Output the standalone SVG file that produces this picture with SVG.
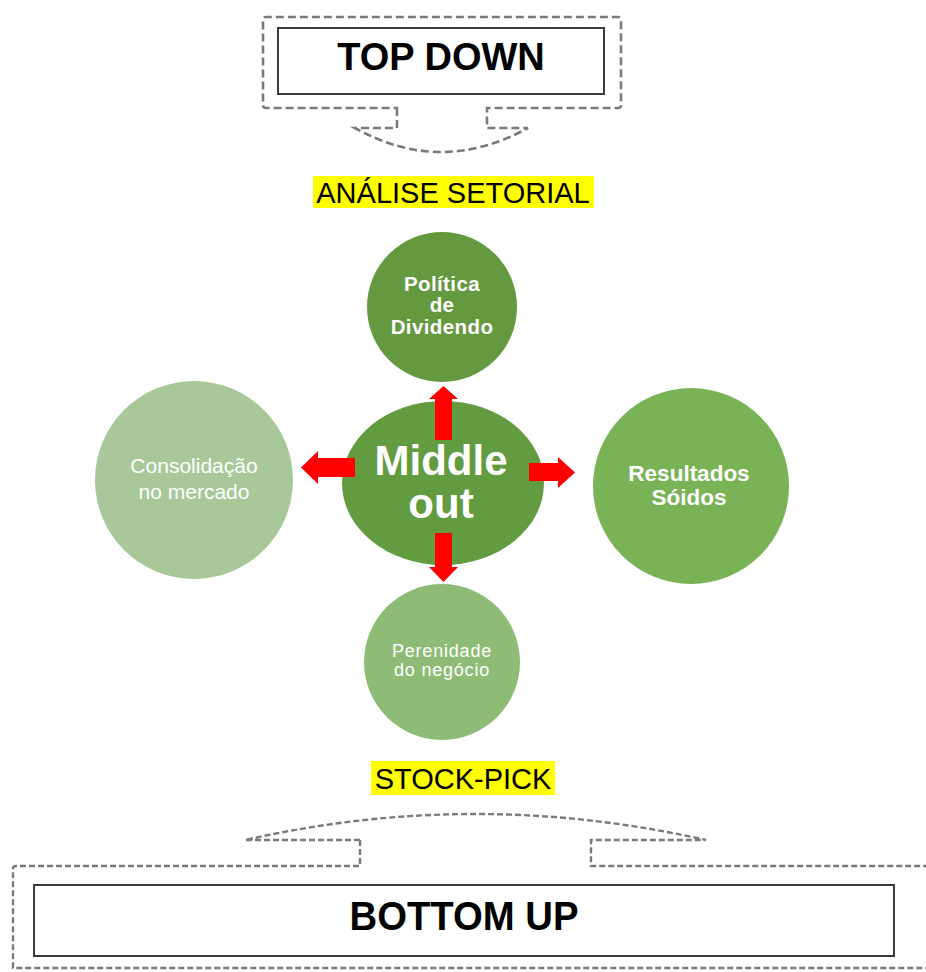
<svg xmlns="http://www.w3.org/2000/svg" width="926" height="972" viewBox="0 0 926 972">
<style>
.dash{fill:none;stroke:#7a7a7a;stroke-width:2.6;stroke-dasharray:8 4}
.dash2{fill:none;stroke:#7a7a7a;stroke-width:2.4;stroke-dasharray:6 3}
.box{fill:#fff;stroke:#3a3a3a;stroke-width:2}
.title{font-family:"Liberation Sans",Arial,sans-serif;font-weight:bold;fill:#000;text-anchor:middle}
.hl{fill:#ffff00}
.lbl{font-family:"Liberation Sans",Arial,sans-serif;font-size:29px;fill:#000;text-anchor:middle}
.ct{font-family:"Liberation Sans",Arial,sans-serif;fill:#fff;text-anchor:middle}
.arrow{fill:#ff0000}
</style>
<rect width="926" height="972" fill="#fff"/>
<g id="top-down">
  <path class="dash" d="M397,108 V128 H355 Q441,176 528,128 H487 V108 H618 Q621,108 621,105 V20 Q621,17 618,17 H266 Q263,17 263,20 V105 Q263,108 266,108 Z"/>
  <rect class="box" x="278" y="28" width="326" height="66"/>
  <text class="title" x="441" y="70" font-size="38">TOP DOWN</text>
</g>
<g id="analise-setorial">
  <rect class="hl" x="313" y="176" width="281" height="32"/>
  <text class="lbl" x="453" y="203">ANÁLISE SETORIAL</text>
</g>
<g id="politica">
  <circle cx="442" cy="307" r="75" fill="#64993f"/>
  <text class="ct" font-size="20.5" font-weight="bold" letter-spacing="0.4"><tspan x="442" y="291">Política</tspan><tspan x="442" y="312">de</tspan><tspan x="442" y="334">Dividendo</tspan></text>
</g>
<g id="consolidacao">
  <circle cx="194" cy="480" r="99" fill="#a9c89a"/>
  <text class="ct" font-size="21"><tspan x="194" y="473">Consolidação</tspan><tspan x="194" y="499">no mercado</tspan></text>
</g>
<g id="resultados">
  <circle cx="691" cy="486" r="98" fill="#7ab356"/>
  <text class="ct" font-size="22.5" font-weight="bold"><tspan x="689" y="481">Resultados</tspan><tspan x="689" y="505">Sóidos</tspan></text>
</g>
<g id="perenidade">
  <circle cx="442" cy="662" r="78" fill="#8ebc77"/>
  <text class="ct" font-size="18" letter-spacing="0.8"><tspan x="442" y="657">Perenidade</tspan><tspan x="442" y="676">do negócio</tspan></text>
</g>
<g id="middle-out">
  <ellipse cx="443" cy="483" rx="101" ry="82" fill="#629b40"/>
  <text class="ct" font-size="42" font-weight="bold"><tspan x="441" y="475">Middle</tspan><tspan x="441" y="518">out</tspan></text>
</g>
<g id="connectors">
  <polygon class="arrow" points="435,440 435,399 429,399 443.5,386 458,399 452,399 452,440"/>
  <polygon class="arrow" points="355,458 318,458 318,451 301,467.5 318,484 318,477 355,477"/>
  <polygon class="arrow" points="529,463 558,463 558,457 575,472.5 558,488 558,481 529,481"/>
  <polygon class="arrow" points="435,533 435,567 429,567 443.5,582 458,567 452,567 452,533"/>
</g>
<g id="stock-pick">
  <rect class="hl" x="371" y="761" width="184" height="34"/>
  <text class="lbl" x="463" y="789">STOCK-PICK</text>
</g>
<g id="bottom-up">
  <path class="dash2" d="M360,840 H245 Q475,788 706,840 H591 V866 H940"/>
  <path class="dash2" d="M360,840 V866 H16 Q13,866 13,869 V968 H940"/>
  <rect class="box" x="34" y="885" width="860" height="71"/>
  <text class="title" x="464" y="930" font-size="41" textLength="229" lengthAdjust="spacingAndGlyphs">BOTTOM UP</text>
</g>
</svg>
